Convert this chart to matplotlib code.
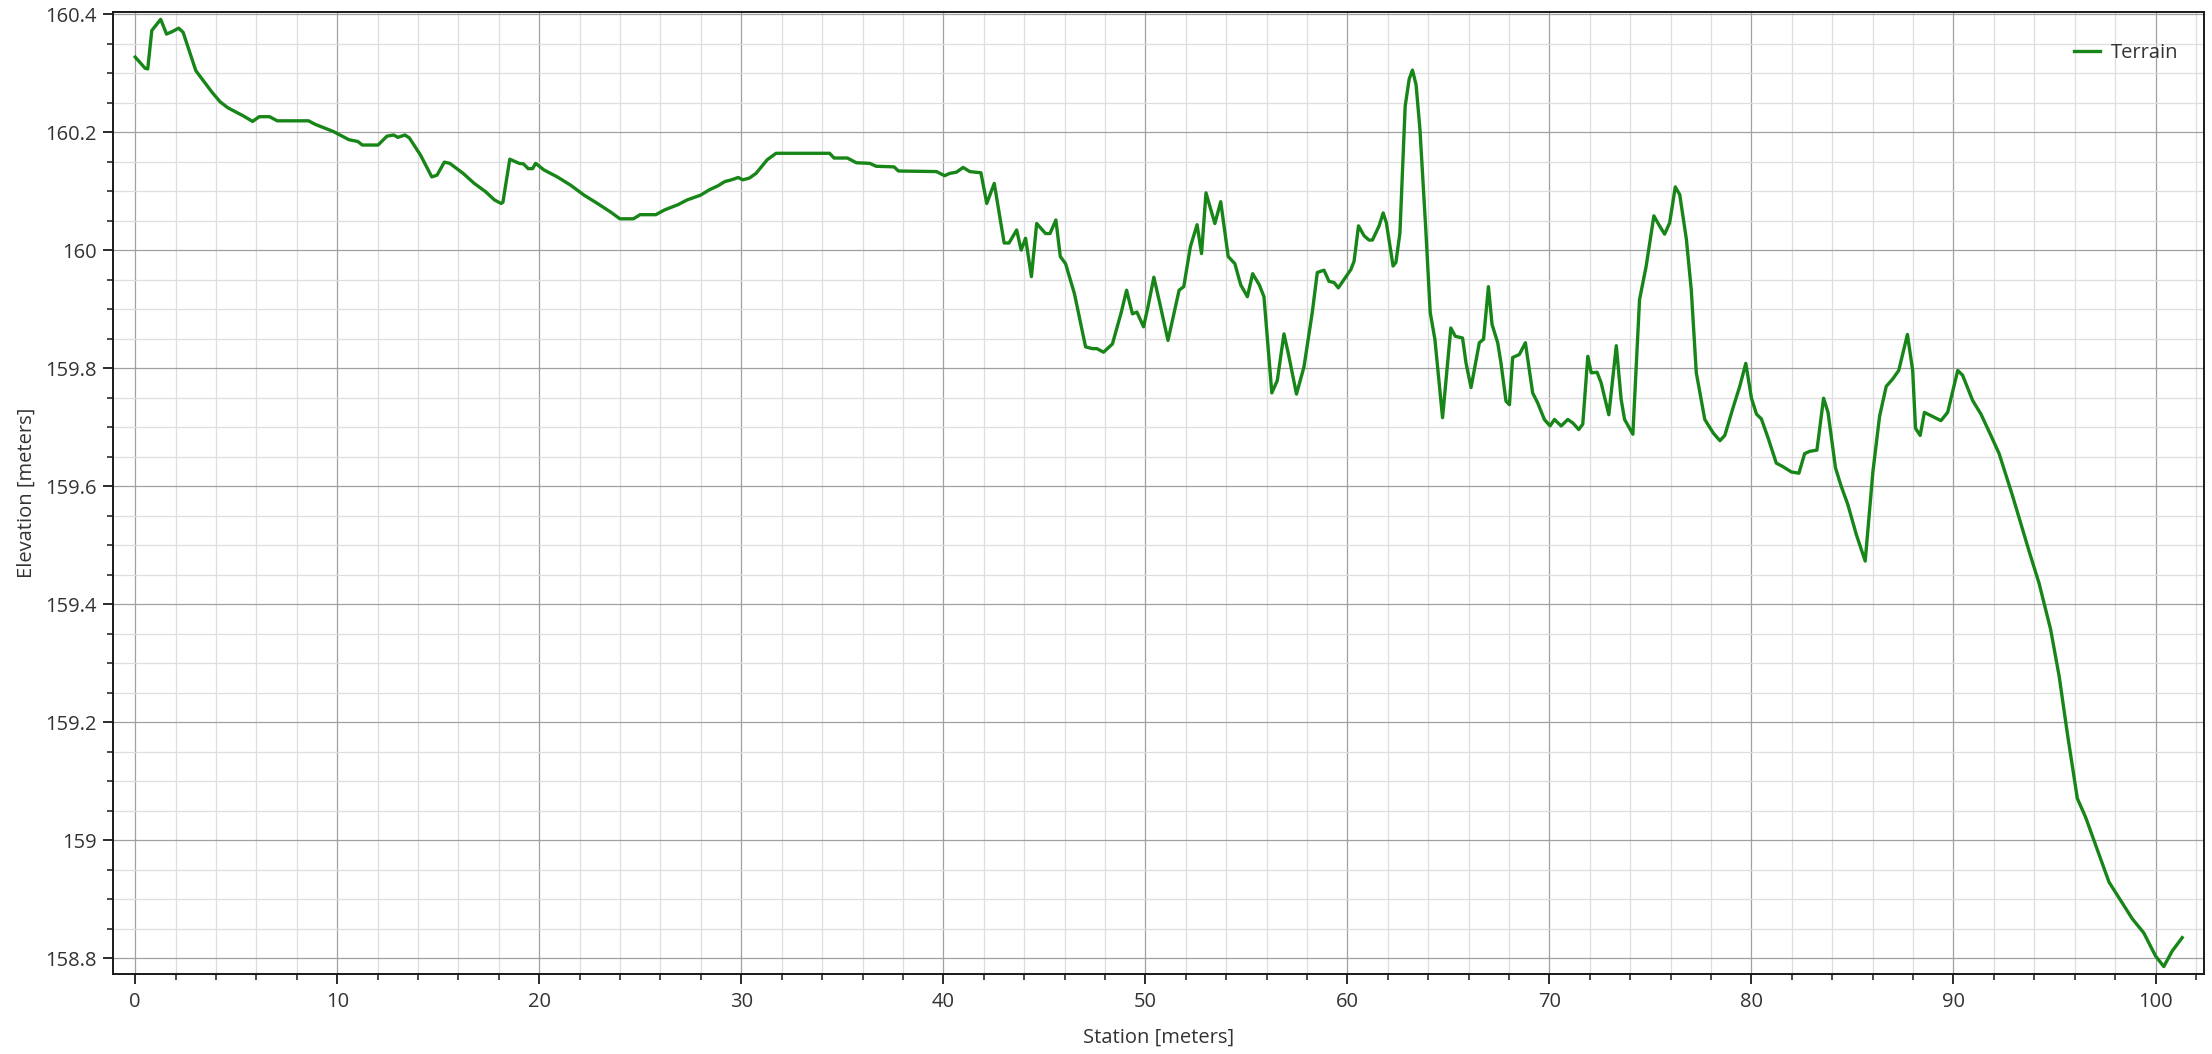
import matplotlib
matplotlib.use("Agg")
import matplotlib.pyplot as plt
from matplotlib.ticker import MultipleLocator, FuncFormatter

plt.rcParams['font.family'] = ['Open Sans', 'DejaVu Sans']

station = [
    0.0, 0.49, 0.62, 0.82, 1.26, 1.55, 1.82, 2.15, 2.37, 2.70, 3.00, 3.37, 3.81, 4.21, 4.59,
    4.92, 5.37, 5.81, 6.14, 6.65, 7.03, 8.58, 8.91, 9.36, 9.80, 10.13, 10.58, 11.02, 11.24,
    12.02, 12.46, 12.79, 13.00, 13.35, 13.57, 14.12, 14.68, 14.94, 15.30, 15.57, 16.23, 16.78,
    17.34, 17.78, 18.11, 18.20, 18.54, 19.00, 19.22, 19.45, 19.67, 19.82, 20.22, 20.89, 21.55,
    22.22, 22.88, 23.55, 23.99, 24.66, 24.99, 25.77, 26.20, 26.87, 27.32, 27.98, 28.41, 28.85,
    29.18, 29.51, 29.85, 30.07, 30.40, 30.73, 31.28, 31.72, 34.37, 34.59, 35.25, 35.69, 36.35,
    36.68, 37.56, 37.78, 39.66, 40.06, 40.32, 40.65, 40.98, 41.31, 41.86, 42.15, 42.52, 43.01,
    43.25, 43.63, 43.85, 44.07, 44.36, 44.62, 45.06, 45.28, 45.57, 45.79, 46.05, 46.49, 47.04,
    47.38, 47.60, 47.93, 48.37, 48.81, 49.07, 49.36, 49.58, 49.91, 50.13, 50.42, 50.68, 51.12,
    51.34, 51.67, 51.90, 52.23, 52.56, 52.78, 53.00, 53.44, 53.73, 54.10, 54.43, 54.72, 55.05,
    55.31, 55.64, 55.87, 56.26, 56.53, 56.86, 57.08, 57.48, 57.85, 58.26, 58.51, 58.84, 59.09,
    59.34, 59.55, 59.83, 60.17, 60.33, 60.55, 60.83, 61.07, 61.24, 61.49, 61.57, 61.77, 61.93,
    62.26, 62.40, 62.60, 62.86, 63.06, 63.22, 63.40, 63.59, 63.88, 64.10, 64.33, 64.71, 64.96,
    65.12, 65.34, 65.70, 65.87, 66.12, 66.53, 66.74, 66.98, 67.16, 67.44, 67.60, 67.85, 68.02,
    68.18, 68.51, 68.81, 69.17, 69.42, 69.75, 70.03, 70.25, 70.58, 70.91, 71.16, 71.45, 71.65,
    71.90, 72.07, 72.36, 72.56, 72.94, 73.31, 73.55, 73.72, 74.13, 74.46, 74.79, 75.17, 75.45,
    75.70, 75.95, 76.23, 76.45, 76.78, 77.02, 77.27, 77.69, 78.11, 78.44, 78.68, 79.09, 79.42,
    79.72, 80.00, 80.25, 80.49, 80.82, 81.23, 81.56, 81.98, 82.35, 82.63, 82.88, 83.24, 83.57,
    83.79, 84.16, 84.44, 84.77, 85.19, 85.63, 86.01, 86.34, 86.67, 87.00, 87.29, 87.72, 87.98,
    88.12, 88.35, 88.56, 88.97, 89.38, 89.71, 90.21, 90.45, 90.95, 91.36, 91.85, 92.26, 92.92,
    93.74, 94.24, 94.81, 95.23, 95.64, 96.13, 96.54, 97.12, 97.70, 98.35, 98.85, 99.42, 100.00,
    100.41, 100.82, 101.32,
]

elevation = [
    160.327, 160.308, 160.307, 160.372, 160.391, 160.366, 160.370, 160.376, 160.369, 160.335,
    160.304, 160.287, 160.267, 160.251, 160.241, 160.235, 160.227, 160.218, 160.226, 160.226,
    160.219, 160.219, 160.213, 160.207, 160.201, 160.195, 160.187, 160.184, 160.178, 160.178,
    160.193, 160.195, 160.191, 160.195, 160.190, 160.161, 160.124, 160.127, 160.149, 160.147,
    160.130, 160.113, 160.099, 160.085, 160.079, 160.081, 160.154, 160.147, 160.146, 160.138,
    160.138, 160.147, 160.136, 160.124, 160.110, 160.093, 160.079, 160.064, 160.053, 160.053,
    160.060, 160.060, 160.068, 160.077, 160.085, 160.093, 160.102, 160.109, 160.116, 160.119,
    160.123, 160.119, 160.122, 160.130, 160.153, 160.164, 160.164, 160.156, 160.156, 160.148,
    160.147, 160.142, 160.141, 160.134, 160.133, 160.126, 160.130, 160.132, 160.140, 160.133,
    160.131, 160.079, 160.113, 160.012, 160.012, 160.034, 160.000, 160.020, 159.955, 160.045,
    160.028, 160.028, 160.051, 159.989, 159.977, 159.926, 159.836, 159.833, 159.833, 159.827,
    159.841, 159.895, 159.932, 159.892, 159.895, 159.870, 159.904, 159.954, 159.915, 159.847,
    159.881, 159.932, 159.938, 160.006, 160.043, 159.994, 160.097, 160.045, 160.082, 159.989,
    159.977, 159.941, 159.921, 159.960, 159.941, 159.921, 159.758, 159.779, 159.858, 159.824,
    159.756, 159.802, 159.894, 159.962, 159.966, 159.947, 159.945, 159.936, 159.950, 159.967,
    159.981, 160.041, 160.024, 160.017, 160.017, 160.035, 160.041, 160.063, 160.046, 159.973,
    159.979, 160.029, 160.244, 160.290, 160.305, 160.280, 160.205, 160.035, 159.894, 159.849,
    159.716, 159.809, 159.868, 159.854, 159.851, 159.809, 159.767, 159.843, 159.849, 159.938,
    159.874, 159.843, 159.809, 159.744, 159.738, 159.818, 159.823, 159.843, 159.758, 159.741,
    159.713, 159.702, 159.713, 159.702, 159.713, 159.707, 159.696, 159.705, 159.820, 159.792,
    159.793, 159.775, 159.721, 159.838, 159.747, 159.713, 159.688, 159.916, 159.973, 160.058,
    160.041, 160.027, 160.046, 160.107, 160.094, 160.018, 159.933, 159.792, 159.713, 159.690,
    159.677, 159.686, 159.733, 159.769, 159.808, 159.749, 159.722, 159.714, 159.682, 159.639,
    159.633, 159.624, 159.622, 159.655, 159.659, 159.661, 159.749, 159.725, 159.631, 159.600,
    159.569, 159.518, 159.473, 159.624, 159.718, 159.769, 159.782, 159.796, 159.857, 159.796,
    159.698, 159.686, 159.725, 159.718, 159.711, 159.725, 159.796, 159.788, 159.745, 159.722,
    159.686, 159.655, 159.584, 159.490, 159.435, 159.357, 159.278, 159.180, 159.071, 159.039,
    158.984, 158.929, 158.894, 158.867, 158.843, 158.804, 158.786, 158.812, 158.835,
]

series_name = "Terrain"
x_label = "Station [meters]"
y_label = "Elevation [meters]"

W, H = 2212, 1054
fig = plt.figure(figsize=(W / 100, H / 100), dpi=100)
L, R, T, B = 113, 2204, 12, 974
ax = fig.add_axes([L / W, (H - B) / H, (R - L) / W, (B - T) / H])

ax.plot(station, elevation, color='#178517', lw=2.4, label=series_name, zorder=3,
        solid_joinstyle='round')

ax.set_xlim(-1.1, 102.4)
ax.set_ylim(158.7734, 160.4034)

ax.xaxis.set_major_locator(MultipleLocator(10))
ax.xaxis.set_minor_locator(MultipleLocator(2))
ax.yaxis.set_major_locator(MultipleLocator(0.2))
ax.yaxis.set_minor_locator(MultipleLocator(0.05))
ax.yaxis.set_major_formatter(FuncFormatter(lambda v, p: f"{v:.1f}".rstrip('0').rstrip('.')))

ax.grid(which='major', color='#a0a0a0', lw=0.9, zorder=1)
ax.grid(which='minor', color='#dedede', lw=0.9, zorder=0)
ax.set_axisbelow(True)

for s in ax.spines.values():
    s.set_color('#1a1a1a')
    s.set_linewidth(1.4)

ax.tick_params(which='major', direction='out', length=7, width=1.3, color='#1a1a1a',
               labelsize=14.5, labelcolor='#333333')
ax.tick_params(which='minor', direction='out', length=4, width=1.1, color='#1a1a1a')
ax.tick_params(axis='x', which='major', pad=6)
ax.tick_params(axis='y', which='major', pad=5)

ax.set_xlabel(x_label, fontsize=14.5, color='#333333', va='center')
ax.xaxis.set_label_coords(0.5, (B - 1038) / (B - T))
ax.set_ylabel(y_label, fontsize=14.5, color='#333333', va='center')
ax.yaxis.set_label_coords((27 - L) / (R - L), 0.5)

ax.legend(loc='center right', bbox_to_anchor=((2186 - L) / (R - L), (B - 53) / (B - T)),
          frameon=False, fontsize=14.5, handlelength=1.3, handletextpad=0.5,
          borderaxespad=0, labelcolor='#333333')

fig.savefig("out.png", dpi=100)
